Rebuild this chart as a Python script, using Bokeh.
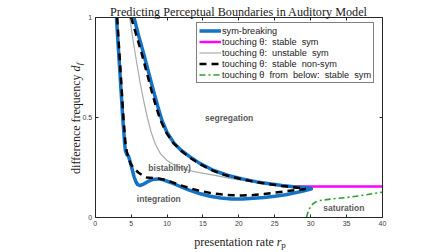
import math
from bokeh.plotting import figure
from bokeh.models import Label, Legend, LegendItem, LinearAxis, FixedTicker, Range1d
from bokeh.embed import file_html
from bokeh.resources import INLINE

# ---------------- data ----------------
sym_x = [2.96, 3.2, 3.45, 3.7, 3.85, 3.97, 4.1, 4.2, 4.4, 4.65, 4.9, 5.15, 5.4, 5.65, 5.9, 6.2,
         6.7, 7.3, 8.0, 8.7, 9.5, 10.5, 11.5, 13.0, 14.5, 16.0, 17.5, 19.0, 20.5, 22.0, 23.5,
         25.0, 26.5, 27.8, 28.8, 29.6, 30.1,
         29.9, 29.0, 27.6, 26.0, 24.5, 22.5, 20.5, 18.5, 16.5, 14.5, 13.2, 12.0, 11.0, 10.0,
         9.3, 8.8, 8.1, 7.4, 6.7, 6.0, 5.4]
sym_y = [1.0, 0.86, 0.72, 0.575, 0.49, 0.435, 0.37, 0.335, 0.315, 0.305, 0.275, 0.24, 0.205, 0.18, 0.165, 0.16,
         0.166, 0.179, 0.19, 0.193, 0.188, 0.175, 0.16, 0.138, 0.12, 0.106, 0.097, 0.093, 0.093, 0.096, 0.1,
         0.106, 0.114, 0.123, 0.131, 0.138, 0.143,
         0.147, 0.15, 0.154, 0.16, 0.167, 0.178, 0.193, 0.21, 0.235, 0.272, 0.303, 0.335, 0.37, 0.425,
         0.485, 0.545, 0.635, 0.73, 0.825, 0.915, 1.0]

nonsym_x = [3.06, 3.3, 3.55, 3.8, 3.95, 4.07, 4.2, 4.4, 4.65, 4.9, 5.4, 6.0, 6.6, 7.2, 8.0, 8.7, 9.5,
            10.5, 11.8, 13.0, 14.5, 16.0, 17.5, 19.0, 20.5, 22.0, 23.5, 25.0, 26.5, 27.8, 28.7, 29.3,
            28.8, 27.5, 26.0, 24.0, 22.0, 20.0, 18.0, 16.3, 14.8, 13.3, 12.0, 10.9, 10.0, 9.1, 8.5,
            7.8, 7.1, 6.4, 5.7, 5.0]
nonsym_y = [1.0, 0.86, 0.72, 0.575, 0.49, 0.435, 0.375, 0.33, 0.3, 0.27, 0.245, 0.225, 0.21, 0.2, 0.197, 0.196, 0.19,
            0.179, 0.162, 0.148, 0.134, 0.123, 0.116, 0.111, 0.11, 0.112, 0.117, 0.124, 0.131, 0.136, 0.14, 0.143,
            0.147, 0.152, 0.158, 0.168, 0.18, 0.195, 0.213, 0.236, 0.263, 0.296, 0.333, 0.372, 0.418, 0.485, 0.55,
            0.64, 0.735, 0.83, 0.915, 1.0]

unstable_x = [4.8, 5.3, 5.8, 6.3, 6.8, 7.3, 7.8, 8.4, 9.1, 10.0, 11.0, 12.5, 14.5, 16.5, 19.0, 22.0, 25.0, 27.6]
unstable_y = [1.0, 0.88, 0.77, 0.665, 0.575, 0.495, 0.425, 0.365, 0.318, 0.285, 0.262, 0.24, 0.224, 0.212, 0.194, 0.177, 0.164, 0.157]

stable_sym_x = [27.6, 40.0]
stable_sym_y = [0.155, 0.155]

below_x = [29.4, 29.7, 30.1, 30.7, 31.3, 33.0, 35.0, 37.5, 40.0]
below_y = [0.0, 0.035, 0.062, 0.078, 0.085, 0.093, 0.1, 0.112, 0.127]

region_names = ["segregation", "bistability)", "integration", "saturation"]
region_x = [15.3, 7.4, 5.8, 31.75]
region_y = [0.5, 0.248, 0.093, 0.047]

x_ticks = [0, 5, 10, 15, 20, 25, 30, 35, 40]
y_ticks = [0, 0.5, 1]
y_tick_labels = ["0", "0.5", "1"]

legend_labels = ["sym-breaking", "touching θ:  stable  sym", "touching θ:  unstable  sym",
                 "touching θ:  stable  non-sym", "touching θ  from  below:  stable  sym"]

title_text = "Predicting Perceptual Boundaries in Auditory Model"

# ---------------- layout (pixels) ----------------
W, H = 448, 252
FL, FR, FT, FB = 94.7, 382.0, 17.0, 217.0   # axes box on the page
X0, X1, Y0, Y1 = 0, 40, 0, 1
kx = (FR - FL) / (X1 - X0)
ky = (FB - FT) / (Y1 - Y0)
xs = X0 - FL / kx
ys = Y0 - (H - FB) / ky

p = figure(width=W, height=H, x_range=Range1d(xs, xs + W / kx), y_range=Range1d(ys, ys + H / ky),
           output_backend="svg", toolbar_location=None, x_axis_location=None, y_axis_location=None,
           min_border=0, min_border_left=0, min_border_right=0, min_border_top=0, min_border_bottom=0)
p.background_fill_color = "white"
p.border_fill_color = "white"
p.outline_line_color = None
p.grid.visible = False

axis_color = "#262626"

def make_axis(ticks, loc, bounds, labels):
    ax = LinearAxis(ticker=FixedTicker(ticks=ticks), fixed_location=loc, bounds=bounds,
                    major_tick_in=3, major_tick_out=0, minor_tick_line_color=None,
                    axis_line_color=axis_color, axis_line_width=1,
                    major_tick_line_color=axis_color,
                    major_label_text_font="Liberation Sans", major_label_text_font_size="7px",
                    major_label_text_color="#404040", major_label_standoff=3)
    ax.major_label_overrides = {t: s for t, s in zip(ticks, labels)}
    return ax

p.add_layout(make_axis(x_ticks, Y0, (X0, X1), [str(t) for t in x_ticks]), "below")
p.add_layout(make_axis(x_ticks, Y1, (X0, X1), ["" for t in x_ticks]), "above")
p.add_layout(make_axis(y_ticks, X0, (Y0, Y1), y_tick_labels), "left")
p.add_layout(make_axis(y_ticks, X1, (Y0, Y1), ["" for t in y_ticks]), "right")

# ---------------- curves ----------------
r_mag = p.line(stable_sym_x, stable_sym_y, line_color="#FF00FF", line_width=2.5)
r_gray = p.line(unstable_x, unstable_y, line_color="#AAAAAA", line_width=1.2)
r_blue = p.line(sym_x, sym_y, line_color="#1672C4", line_width=3.5, line_join="round")
r_black = p.line(nonsym_x, nonsym_y, line_color="black", line_width=2.5, line_dash="7 5")
r_green = p.line(below_x, below_y, line_color="#2CA02C", line_width=1.6, line_dash="6 3 2 3")

# ---------------- region labels ----------------
for name, x, y in zip(region_names, region_x, region_y):
    p.add_layout(Label(x=x, y=y, text=name, text_font="Liberation Sans", text_font_style="bold",
                       text_font_size="8.5px", text_color="#5a5a5a", text_baseline="middle",
                       text_align="left"))

# ---------------- legend ----------------
items = [LegendItem(label=legend_labels[0], renderers=[r_blue]),
         LegendItem(label=legend_labels[1], renderers=[r_mag]),
         LegendItem(label=legend_labels[2], renderers=[r_gray]),
         LegendItem(label=legend_labels[3], renderers=[r_black]),
         LegendItem(label=legend_labels[4], renderers=[r_green])]
legend = Legend(items=items, location=(196, H - 83), margin=0, padding=2, spacing=0,
                glyph_width=22, glyph_height=11, label_height=11, label_standoff=1,
                label_text_font="Liberation Sans", label_text_font_size="9.2px",
                label_text_color="#1a1a1a", border_line_color="black", border_line_width=1,
                background_fill_color="white", background_fill_alpha=1)
p.add_layout(legend)

# ---------------- title & axis labels ----------------
serif = "Liberation Serif"
ink = "#1a1a1a"
xm = (X0 + X1) / 2
ym = (Y0 + Y1) / 2
p.add_layout(Label(x=xm, y=Y1, y_offset=6, text=title_text,
                   text_font=serif, text_font_size="12.2px", text_align="center",
                   text_baseline="alphabetic", text_color=ink))

# x label: presentation rate r_p
p.add_layout(Label(x=xm, y=Y0, x_offset=35, y_offset=-24, text="presentation rate",
                   text_font=serif, text_font_size="12px", text_align="right",
                   text_baseline="alphabetic", text_color=ink))
p.add_layout(Label(x=xm, y=Y0, x_offset=38, y_offset=-24, text="r",
                   text_font=serif, text_font_size="12px", text_font_style="italic",
                   text_align="left", text_baseline="alphabetic", text_color=ink))
p.add_layout(Label(x=xm, y=Y0, x_offset=42.5, y_offset=-27, text="p",
                   text_font=serif, text_font_size="9px",
                   text_align="left", text_baseline="alphabetic", text_color=ink))

# y label: difference frequency d_f
ang = math.pi / 2
p.add_layout(Label(x=X0, y=ym, x_offset=-19.7, y_offset=43, text="difference frequency",
                   text_font=serif, text_font_size="12px", text_align="right", angle=ang,
                   text_baseline="alphabetic", text_color=ink))
p.add_layout(Label(x=X0, y=ym, x_offset=-19.7, y_offset=46, text="d",
                   text_font=serif, text_font_size="12px", text_font_style="italic",
                   text_align="left", angle=ang, text_baseline="alphabetic", text_color=ink))
p.add_layout(Label(x=X0, y=ym, x_offset=-16.7, y_offset=52.3, text="f",
                   text_font=serif, text_font_size="9px", text_font_style="italic",
                   text_align="left", angle=ang, text_baseline="alphabetic", text_color=ink))

open("out.html", "w").write(file_html(p, INLINE))
